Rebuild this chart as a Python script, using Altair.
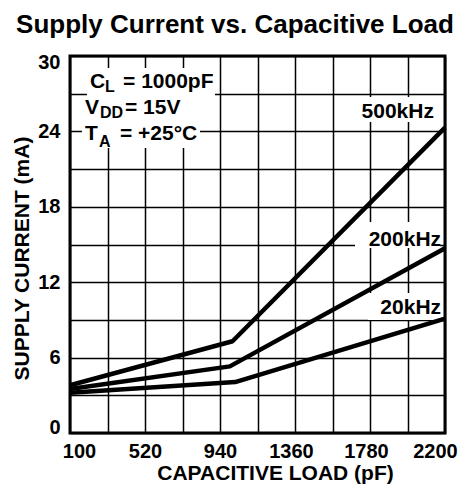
import altair as alt
import pandas as pd

FONT = "Liberation Sans"

# ---- data ----
series = ["500kHz", "200kHz", "20kHz"]
load_500 = [100, 1010, 2200]
curr_500 = [3.8, 7.3, 24.3]
load_200 = [100, 995, 2200]
curr_200 = [3.5, 5.3, 14.7]
load_20 = [100, 1025, 2200]
curr_20 = [3.2, 4.05, 9.1]

x_ticks = list(range(100, 2201, 210))
y_ticks = list(range(0, 31, 3))

# annotation text (main size), subscripts, curve labels
ann_text = ["C", "= 1000pF", "V", "= 15V", "T", "= +25°C"]
ann_x = [212, 397, 184, 408, 184, 380]
ann_y = [27.46, 27.46, 25.39, 25.39, 23.32, 23.32]
sub_text = ["L", "DD", "A"]
sub_x = [296, 268, 262]
sub_y = [27.14, 25.07, 22.76]
lab_text = ["500kHz", "200kHz", "20kHz"]
lab_x = [2138, 2178, 2178]
lab_y = [25.07, 14.88, 9.47]

# white backgrounds behind the annotation texts
box_x1 = [195, 167, 167, 1713, 1696, 1769]
box_x2 = [912, 744, 828, 2155, 2172, 2183]
box_y1 = [29.05, 26.82, 24.83, 26.74, 16.79, 11.14]
box_y2 = [26.82, 24.83, 22.68, 24.75, 14.72, 8.99]

lines_df = pd.DataFrame({
    "load": load_500 + load_200 + load_20,
    "current": curr_500 + curr_200 + curr_20,
    "freq": [series[0]] * 3 + [series[1]] * 3 + [series[2]] * 3,
})
ann_df = pd.DataFrame({"t": ann_text, "load": ann_x, "current": ann_y})
sub_df = pd.DataFrame({"t": sub_text, "load": sub_x, "current": sub_y})
lab_df = pd.DataFrame({"t": lab_text, "load": lab_x, "current": lab_y})
box_df = pd.DataFrame({"load": box_x1, "load2": box_x2, "current": box_y1, "current2": box_y2})

x_scale = alt.Scale(domain=[100, 2200], nice=False, zero=False)
y_scale = alt.Scale(domain=[0, 30], nice=False, zero=True)

x_axis = alt.Axis(
    values=x_ticks, format="d",
    labelExpr="(datum.value - 100) % 420 == 0 ? datum.label : ''",
    grid=True, gridColor="black", gridWidth=1.5, gridOpacity=1,
    domain=False, ticks=False, tickSize=0,
    labelFont=FONT, labelFontWeight="bold", labelFontSize=20, labelColor="black",
    labelPadding=8, labelFlush=False, labelOverlap=False,
    labelOffset={"condition": [
        {"test": "datum.value == 100", "value": 9},
        {"test": "datum.value == 2200", "value": -10},
        {"test": "datum.value == 1360 || datum.value == 1780", "value": -4},
    ], "value": 0},
    title="CAPACITIVE LOAD (pF)", titleFont=FONT, titleFontSize=21, titleFontWeight="bold",
    titleColor="black", titleX=205, titleY=46, titleBaseline="alphabetic", titleAlign="center",
)
y_axis = alt.Axis(
    values=y_ticks, format="d",
    labelExpr="datum.value % 6 == 0 ? datum.label : ''",
    grid=True, gridColor="black", gridWidth=1.5, gridOpacity=1,
    domain=False, ticks=False, tickSize=0,
    labelFont=FONT, labelFontWeight="bold", labelFontSize=20, labelColor="black",
    labelPadding=10, labelFlush=True, labelFlushOffset=4, labelOverlap=False,
    title="SUPPLY CURRENT (mA)", titleFont=FONT, titleFontSize=21, titleFontWeight="bold",
    titleColor="black", titleX=-42, titleY=202, titleAngle=270,
    titleBaseline="alphabetic", titleAlign="center",
)

X = alt.X("load:Q", scale=x_scale, axis=x_axis)
Y = alt.Y("current:Q", scale=y_scale, axis=y_axis)

boxes = alt.Chart(box_df).mark_rect(color="white").encode(
    x=X, x2="load2:Q", y=Y, y2="current2:Q"
)
lines = alt.Chart(lines_df).mark_line(color="black", strokeWidth=4.5, strokeJoin="round").encode(
    x=X, y=Y, detail="freq:N", order="load:Q"
)
ann = alt.Chart(ann_df).mark_text(
    font=FONT, fontSize=21, fontWeight="bold", color="black", align="left", baseline="alphabetic"
).encode(x=X, y=Y, text="t:N")
subs = alt.Chart(sub_df).mark_text(
    font=FONT, fontSize=16, fontWeight="bold", color="black", align="left", baseline="alphabetic"
).encode(x=X, y=Y, text="t:N")
labs = alt.Chart(lab_df).mark_text(
    font=FONT, fontSize=21, fontWeight="bold", color="black", align="right", baseline="alphabetic"
).encode(x=X, y=Y, text="t:N")
title = alt.Chart(pd.DataFrame({"t": ["Supply Current vs. Capacitive Load"]})).mark_text(
    font=FONT, fontSize=26, fontWeight="bold", color="black", align="center", baseline="alphabetic"
).encode(x=alt.value(165), y=alt.value(-23), text="t:N")

chart = alt.layer(boxes, lines, ann, subs, labs, title).properties(
    width=375, height=377,
    autosize=alt.AutoSizeParams(type="none"),
    padding={"left": 62, "top": 48, "right": 13, "bottom": 52},
).configure_view(stroke="black", strokeWidth=3)

chart.save("out.html", embed_options={"renderer": "svg", "actions": False})
